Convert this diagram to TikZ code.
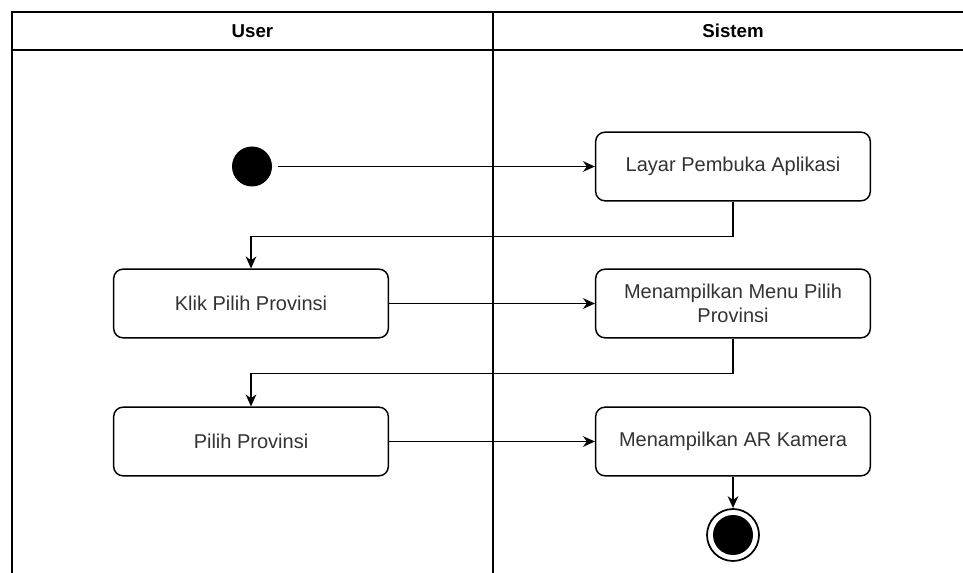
\documentclass[tikz,border=0pt]{standalone}
\usepackage{fontspec}
\setmainfont{Liberation Sans}
\usetikzlibrary{arrows.meta}
\definecolor{txt}{HTML}{333333}
\tikzset{
  lane/.style={draw=black, line width=1.1pt},
  act/.style={draw=black, line width=1.1pt, rounded corners=7pt, fill=white,
    minimum width=206pt, minimum height=51.5pt, inner sep=2pt,
    align=center, text=txt, font=\fontsize{15}{17.5}\selectfont},
  lanetitle/.style={font=\bfseries\fontsize{14}{16}\selectfont, text=black},
  flow/.style={draw=black, line width=1.1pt, -{Stealth[length=9pt,width=8pt]}},
  startdot/.style={circle, fill=black, minimum size=30pt, inner sep=0pt},
  enddot/.style={circle, fill=black, minimum size=30pt, inner sep=0pt},
  endring/.style={circle, draw=black, line width=1.3pt, minimum size=39pt, inner sep=0pt}
}
\begin{document}
\begin{tikzpicture}[x=0.75pt, y=-0.75pt]
  \useasboundingbox (0,0) rectangle (963,573);
  \begin{scope}
    \clip (0,0) rectangle (963,573);
    % swimlane frame
    \draw[lane] (12,12) rectangle (990,600);
    \draw[lane] (12,50) -- (990,50);
    \draw[lane] (493,12) -- (493,600);
  \end{scope}
  \node[lanetitle] (userlbl) at (252.5,31) {User};
  \node[lanetitle] (sislbl) at (733,31) {Sistem};

  % activities
  \node[startdot] (start) at (252,166.5) {};
  \node[act] (layar) at (733,166.5) {Layar Pembuka Aplikasi};
  \node[act] (klik) at (251,303.5) {Klik Pilih Provinsi};
  \node[act] (menu) at (733,303.5) {Menampilkan Menu Pilih\\Provinsi};
  \node[act] (pilih) at (251,441.5) {Pilih Provinsi};
  \node[act] (ar) at (733,441.5) {Menampilkan AR Kamera};
  \node[endring] (end) at (733,535) {};
  \node[enddot] (enddot) at (end) {};

  % control flow
  \draw[flow, shorten <=4pt] (start) -- (layar);
  \draw[flow] (layar.south) -- ++(0,35) -| (klik.north);
  \draw[flow] (klik) -- (menu);
  \draw[flow] (menu.south) -- ++(0,35) -| (pilih.north);
  \draw[flow] (pilih) -- (ar);
  \draw[flow] (ar.south) -- (end.north);
\end{tikzpicture}
\end{document}
